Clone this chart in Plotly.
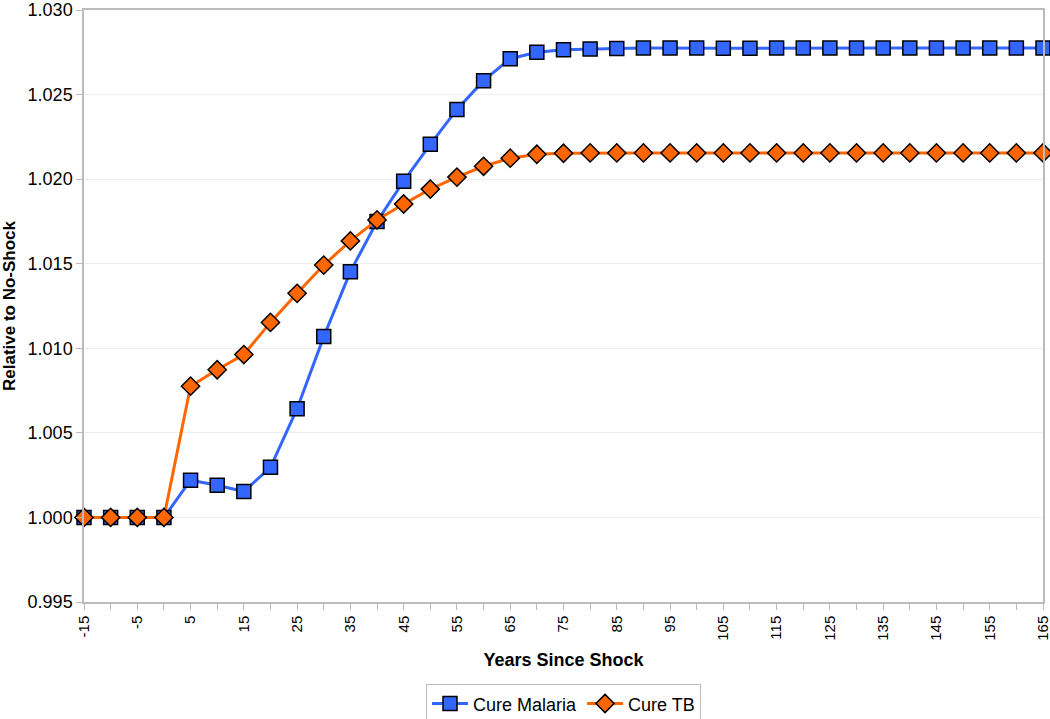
import plotly.graph_objects as go

years = list(range(-15, 170, 5))
cure_malaria = [1.0, 1.0, 1.0, 1.0, 1.0022, 1.0019, 1.00153, 1.00296, 1.00643, 1.01069,
                1.01453, 1.0175, 1.01988, 1.02206, 1.02412, 1.02582, 1.02712, 1.0275,
                1.02765, 1.0277, 1.02773, 1.02775, 1.02776, 1.02775, 1.02774, 1.02774,
                1.02775, 1.02775, 1.02775, 1.02775, 1.02775, 1.02775, 1.02775, 1.02775,
                1.02775, 1.02775, 1.02775]
cure_tb = [1.0, 1.0, 1.0, 1.0, 1.00776, 1.00873, 1.00963, 1.01153, 1.01325, 1.01492,
           1.01635, 1.01759, 1.01853, 1.01941, 1.02012, 1.02076, 1.02124, 1.02147,
           1.02153, 1.02155, 1.02155, 1.02155, 1.02155, 1.02155, 1.02155, 1.02155,
           1.02155, 1.02155, 1.02155, 1.02155, 1.02155, 1.02155, 1.02155, 1.02155,
           1.02155, 1.02155, 1.02155]
x_tick_vals = list(range(-15, 170, 10))
x_tick_text = [str(v) for v in x_tick_vals]  # plain hyphen minus
y_tick_vals = [0.995, 1.000, 1.005, 1.010, 1.015, 1.020, 1.025, 1.030]
y_tick_text = ["%.3f" % v for v in y_tick_vals]

font = "Liberation Sans, Arial, sans-serif"

fig = go.Figure()
fig.add_trace(go.Scatter(
    x=years, y=cure_malaria, name="Cure Malaria", mode="lines+markers",
    line=dict(color="#3366FF", width=3),
    marker=dict(symbol="square", size=14, color="#3366FF", line=dict(color="#000000", width=1.5)),
    cliponaxis=False,
))
fig.add_trace(go.Scatter(
    x=years, y=cure_tb, name="Cure TB", mode="lines+markers",
    line=dict(color="#FF6600", width=3),
    marker=dict(symbol="diamond", size=14, color="#FF6600", line=dict(color="#000000", width=1.5)),
    cliponaxis=False,
))

fig.update_layout(
    width=1050, height=719,
    margin=dict(l=84, r=7, t=10, b=117, autoexpand=False),
    paper_bgcolor="white", plot_bgcolor="white",
    font=dict(family=font, size=15, color="#000000"),
    showlegend=True,
    legend=dict(orientation="h", x=0.5, xanchor="center", y=-0.172, yanchor="middle",
                bordercolor="#BBBBBB", borderwidth=1, font=dict(size=18),
                itemwidth=36, tracegroupgap=0),
)
fig.update_xaxes(
    range=[-15, 165], tickmode="array", tickvals=x_tick_vals, ticktext=x_tick_text,
    tickangle=-90, ticklabeloverflow="allow",
    ticks="outside", ticklen=6, tickcolor="#BBBBBB",
    minor=dict(dtick=5, tick0=-15, ticks="outside", ticklen=6, tickcolor="#BBBBBB", showgrid=False),
    showgrid=False, showline=True, linecolor="#BBBBBB", linewidth=1.5, mirror=True,
    zeroline=False, tickfont=dict(size=15), automargin=False,
    title=dict(text="<b>Years Since Shock</b>", font=dict(size=18), standoff=14),
)
fig.update_yaxes(
    range=[0.995, 1.030], tickmode="array", tickvals=y_tick_vals, ticktext=y_tick_text,
    ticklabeloverflow="allow",
    ticks="outside", ticklen=6, tickcolor="#BBBBBB",
    showgrid=True, gridcolor="#EEEEEE", gridwidth=1,
    showline=True, linecolor="#BBBBBB", linewidth=1.5, mirror=True,
    zeroline=False, tickfont=dict(size=18), automargin=False,
    title=dict(text="<b>Relative to No-Shock</b>", font=dict(size=17), standoff=8),
)

fig.write_html("out.html", config={"displayModeBar": False},
               post_script="document.body.style.margin='0';document.body.style.overflow='hidden';")
